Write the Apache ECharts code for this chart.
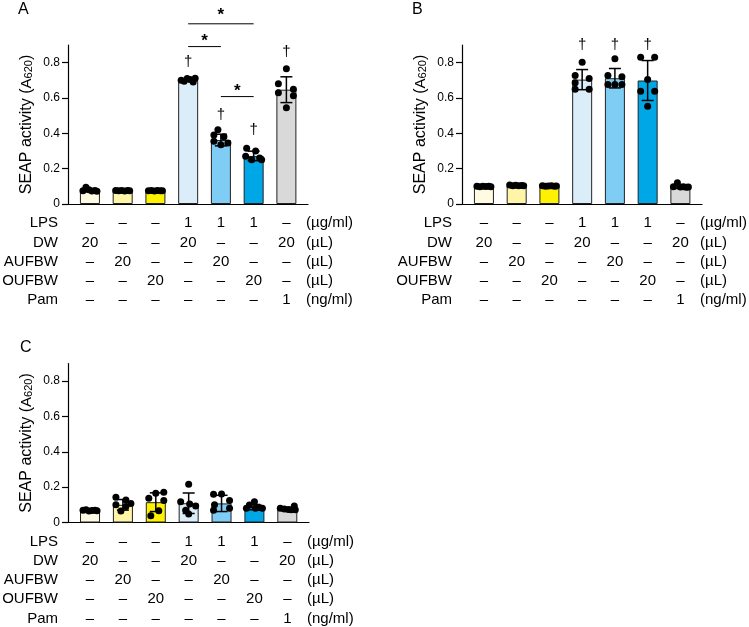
<!DOCTYPE html>
<html>
<head>
<meta charset="utf-8">
<script src="https://cdn.jsdelivr.net/npm/echarts@6/dist/echarts.min.js"></script>
<style>
  html, body { margin: 0; padding: 0; background: #fff; }
  #chart { width: 749px; height: 627px; }
</style>
</head>
<body>
<div id="chart"></div>
<script>
const FONT = '"Liberation Sans", Arial, sans-serif'

// bar fill colours, one per group
const barColors = ['#fffbe3', '#fff5a6', '#fff200', '#dcedfa', '#7fcdf4', '#00a7e7', '#d9d9d9']

// conditions table under each panel
const rowLabels = ['LPS', 'DW', 'AUFBW', 'OUFBW', 'Pam']
const rowUnits = ['(µg/ml)', '(µL)', '(µL)', '(µL)', '(ng/ml)']
const tableRows = [
	['–', '–', '–', '1', '1', '1', '–'],
	['20', '–', '–', '20', '–', '–', '20'],
	['–', '20', '–', '–', '20', '–', '–'],
	['–', '–', '20', '–', '–', '20', '–'],
	['–', '–', '–', '–', '–', '–', '1']
]

const yTicks = [0, 0.2, 0.4, 0.6, 0.8]

// panel A
const meanA = [0.077, 0.075, 0.075, 0.701, 0.362, 0.272, 0.647]
const sdA = [0.008, 0.003, 0.003, 0.008, 0.033, 0.027, 0.073]
const dotsA = [
	[0.095, 0.075, 0.08, 0.073, 0.077, 0.072],
	[0.076, 0.075, 0.077, 0.074, 0.076, 0.075],
	[0.075, 0.076, 0.074, 0.076, 0.075, 0.075],
	[0.70, 0.695, 0.71, 0.705, 0.69, 0.712],
	[0.42, 0.39, 0.38, 0.355, 0.345, 0.335],
	[0.315, 0.30, 0.27, 0.26, 0.25, 0.25],
	[0.765, 0.68, 0.65, 0.63, 0.613, 0.545]
]
const jitterA = [
	[-4, -7, -1, 2, 5, 7],
	[-7, -4, -1, 2, 5, 7],
	[-7, -4, -1, 2, 5, 7],
	[-7, -4, -1, 2, 5, 7],
	[-3, -7, 3, -7, 7, 0],
	[-7, 2, -8, 6, -2, 8],
	[0, -8, 7, -8, 7, 0]
]
const daggersA = [[3, 0.806], [4, 0.504], [5, 0.419], [6, 0.863]]
// [from group, to group, line level, star level]
const bracketsA = [[3, 4, 0.891, 0.944], [3, 5, 1.02, 1.088], [4, 5, 0.608, 0.661]]

// panel B
const meanB = [0.099, 0.105, 0.102, 0.704, 0.712, 0.699, 0.098]
const sdB = [0.003, 0.004, 0.003, 0.057, 0.055, 0.113, 0.01]
const dotsB = [
	[0.10, 0.098, 0.10, 0.099, 0.10, 0.098],
	[0.107, 0.104, 0.106, 0.103, 0.105, 0.104],
	[0.103, 0.101, 0.102, 0.103, 0.101, 0.102],
	[0.803, 0.727, 0.71, 0.686, 0.65, 0.65],
	[0.822, 0.727, 0.72, 0.676, 0.676, 0.676],
	[0.831, 0.831, 0.705, 0.638, 0.638, 0.553],
	[0.12, 0.098, 0.096, 0.097, 0.095, 0.096]
]
const jitterB = [
	[-7, -4, -1, 2, 5, 7],
	[-7, -4, -1, 2, 5, 7],
	[-7, -4, -1, 2, 5, 7],
	[0, -7, 7, -7, -7, 7],
	[0, -7, 7, -7, 0, 7],
	[-7, 7, 0, -7, 7, 0],
	[-3, -7, 0, 3, 6, 8]
]
const daggersB = [[3, 0.90], [4, 0.90], [5, 0.90]]
const bracketsB = []

// panel C
const meanC = [0.068, 0.10, 0.115, 0.109, 0.108, 0.087, 0.076]
const sdC = [0.004, 0.03, 0.053, 0.058, 0.046, 0.015, 0.008]
const dotsC = [
	[0.07, 0.072, 0.065, 0.068, 0.07, 0.066],
	[0.143, 0.128, 0.108, 0.10, 0.09, 0.065],
	[0.171, 0.166, 0.137, 0.124, 0.067, 0.038],
	[0.217, 0.118, 0.105, 0.093, 0.07, 0.048],
	[0.16, 0.162, 0.125, 0.10, 0.08, 0.07],
	[0.118, 0.099, 0.085, 0.08, 0.08, 0.08],
	[0.093, 0.08, 0.076, 0.074, 0.072, 0.072]
]
const jitterC = [
	[-7, -4, -1, 2, 5, 7],
	[-7, 3, 8, -7, 3, -2],
	[8, 0, -7, 8, 3, -5],
	[0, -8, 1, 7, -3, 0],
	[-8, 0, 8, -7, 8, -8],
	[0, -5, 5, -8, 1, 8],
	[7, -7, -3, 1, 4, 8]
]
const daggersC = []
const bracketsC = []

const grids = [
	{ left: 68, top: 45, width: 240, height: 159 },
	{ left: 462, top: 45, width: 240, height: 159 },
	{ left: 68, top: 363.5, width: 241, height: 159 }
]

const panels = [
	{ mean: meanA, sd: sdA, dots: dotsA, jitter: jitterA, daggers: daggersA, brackets: bracketsA },
	{ mean: meanB, sd: sdB, dots: dotsB, jitter: jitterB, daggers: daggersB, brackets: bracketsB },
	{ mean: meanC, sd: sdC, dots: dotsC, jitter: jitterC, daggers: daggersC, brackets: bracketsC }
]

// table cells: [col, row, text]; col -1 = row label, col 7 = unit
const cells = []
rowLabels.forEach((label, r) => {
	cells.push([-1, r, label])
	tableRows[r].forEach((t, c) => cells.push([c, r, t]))
	cells.push([7, r, rowUnits[r]])
})

const xAxes = grids.map((g, i) => ({
	type: 'value',
	gridIndex: i,
	min: -0.67,
	max: 6.66,
	axisLine: { show: true, onZero: false, lineStyle: { color: '#000', width: 1.2 } },
	axisTick: { show: false },
	axisLabel: { show: false },
	splitLine: { show: false }
}))

const yAxes = grids.map((g, i) => ({
	type: 'value',
	gridIndex: i,
	min: 0,
	max: 0.9,
	name: '{a|SEAP activity (}{s|A}{b|620}{a|)}',
	nameLocation: 'middle',
	nameGap: 33,
	nameTextStyle: {
		color: '#000',
		rich: {
			a: { fontSize: 16, fontFamily: FONT, color: '#000' },
			s: { fontSize: 15, fontFamily: FONT, color: '#000' },
			b: { fontSize: 11, fontFamily: FONT, color: '#000', padding: [3, 0, 0, 0] }
		}
	},
	axisLine: { show: true, onZero: false, lineStyle: { color: '#000', width: 1.2 } },
	axisTick: { show: true, length: 6, customValues: yTicks, lineStyle: { color: '#000', width: 1.2 } },
	axisLabel: { customValues: yTicks, color: '#000', fontSize: 12, fontFamily: FONT, margin: 8 },
	splitLine: { show: false }
}))

const series = []
panels.forEach((p, k) => {
	series.push({
		type: 'bar',
		xAxisIndex: k,
		yAxisIndex: k,
		barWidth: 20,
		data: p.mean.map((v, i) => ({
			value: [i, v],
			itemStyle: { color: barColors[i] }
		})),
		itemStyle: { borderColor: '#222', borderWidth: 1 },
		z: 2
	})
	// mean ± SD
	series.push({
		type: 'custom',
		xAxisIndex: k,
		yAxisIndex: k,
		clip: false,
		z: 3,
		data: p.mean.map((v, i) => [i, v, p.sd[i]]),
		renderItem: (params, api) => {
			const x = api.value(0), m = api.value(1), s = api.value(2)
			const top = api.coord([x, m + s])
			const bot = api.coord([x, m - s])
			const st = { stroke: '#000', lineWidth: 1.5 }
			return {
				type: 'group',
				children: [
					{ type: 'line', shape: { x1: top[0], y1: top[1], x2: bot[0], y2: bot[1] }, style: st },
					{ type: 'line', shape: { x1: top[0] - 6, y1: top[1], x2: top[0] + 6, y2: top[1] }, style: st },
					{ type: 'line', shape: { x1: bot[0] - 6, y1: bot[1], x2: bot[0] + 6, y2: bot[1] }, style: st }
				]
			}
		}
	})
	// individual points
	const pts = []
	p.dots.forEach((arr, i) => arr.forEach((v, j) => {
		pts.push({ value: [i, v], symbolOffset: [p.jitter[i][j], 0] })
	}))
	series.push({
		type: 'scatter',
		xAxisIndex: k,
		yAxisIndex: k,
		symbolSize: 7,
		itemStyle: { color: '#000', opacity: 1 },
		data: pts,
		z: 4
	})
	// † marks
	series.push({
		type: 'custom',
		xAxisIndex: k,
		yAxisIndex: k,
		clip: false,
		z: 5,
		data: p.daggers,
		renderItem: (params, api) => {
			const pt = api.coord([api.value(0), api.value(1)])
			return {
				type: 'text',
				x: pt[0],
				y: pt[1],
				style: { text: '†', font: '15px ' + FONT, fill: '#000', textAlign: 'center', textVerticalAlign: 'middle' }
			}
		}
	})
	// significance brackets
	series.push({
		type: 'custom',
		xAxisIndex: k,
		yAxisIndex: k,
		clip: false,
		z: 5,
		data: p.brackets,
		renderItem: (params, api) => {
			const a = api.coord([api.value(0), api.value(2)])
			const b = api.coord([api.value(1), api.value(2)])
			const s = api.coord([(api.value(0) + api.value(1)) / 2, api.value(3)])
			return {
				type: 'group',
				children: [
					{ type: 'line', shape: { x1: a[0], y1: a[1], x2: b[0], y2: b[1] }, style: { stroke: '#000', lineWidth: 1 } },
					{
						type: 'text',
						x: s[0],
						y: s[1] + 4,
						style: { text: '*', font: 'bold 17px ' + FONT, fill: '#000', textAlign: 'center', textVerticalAlign: 'middle' }
					}
				]
			}
		}
	})
	// conditions table
	series.push({
		type: 'custom',
		xAxisIndex: k,
		yAxisIndex: k,
		clip: false,
		z: 5,
		data: cells.map(c => [c[0], c[1]]),
		renderItem: (params, api) => {
			const cs = params.coordSys
			const c = api.value(0), r = api.value(1)
			const y = cs.y + cs.height + 19.2 * (r + 1)
			let x, align
			if (c < 0) {
				x = cs.x - 10
				align = 'right'
			} else if (c > 6) {
				x = cs.x + cs.width - 2
				align = 'left'
			} else {
				x = api.coord([c, 0])[0]
				align = 'center'
			}
			return {
				type: 'text',
				x: x,
				y: y,
				style: { text: cells[params.dataIndex][2], font: '15px ' + FONT, fill: '#000', textAlign: align, textVerticalAlign: 'middle' }
			}
		}
	})
})

const letter = (t, left, top) => ({
	type: 'text',
	left: left,
	top: top,
	style: { text: t, font: '16px ' + FONT, fill: '#000' }
})

const option = {
	animation: false,
	backgroundColor: '#fff',
	textStyle: { fontFamily: FONT },
	grid: grids,
	xAxis: xAxes,
	yAxis: yAxes,
	series: series,
	graphic: [letter('A', 18, 2), letter('B', 412, 2), letter('C', 20, 340)]
}

echarts.init(document.getElementById('chart')).setOption(option)
</script>
</body>
</html>
